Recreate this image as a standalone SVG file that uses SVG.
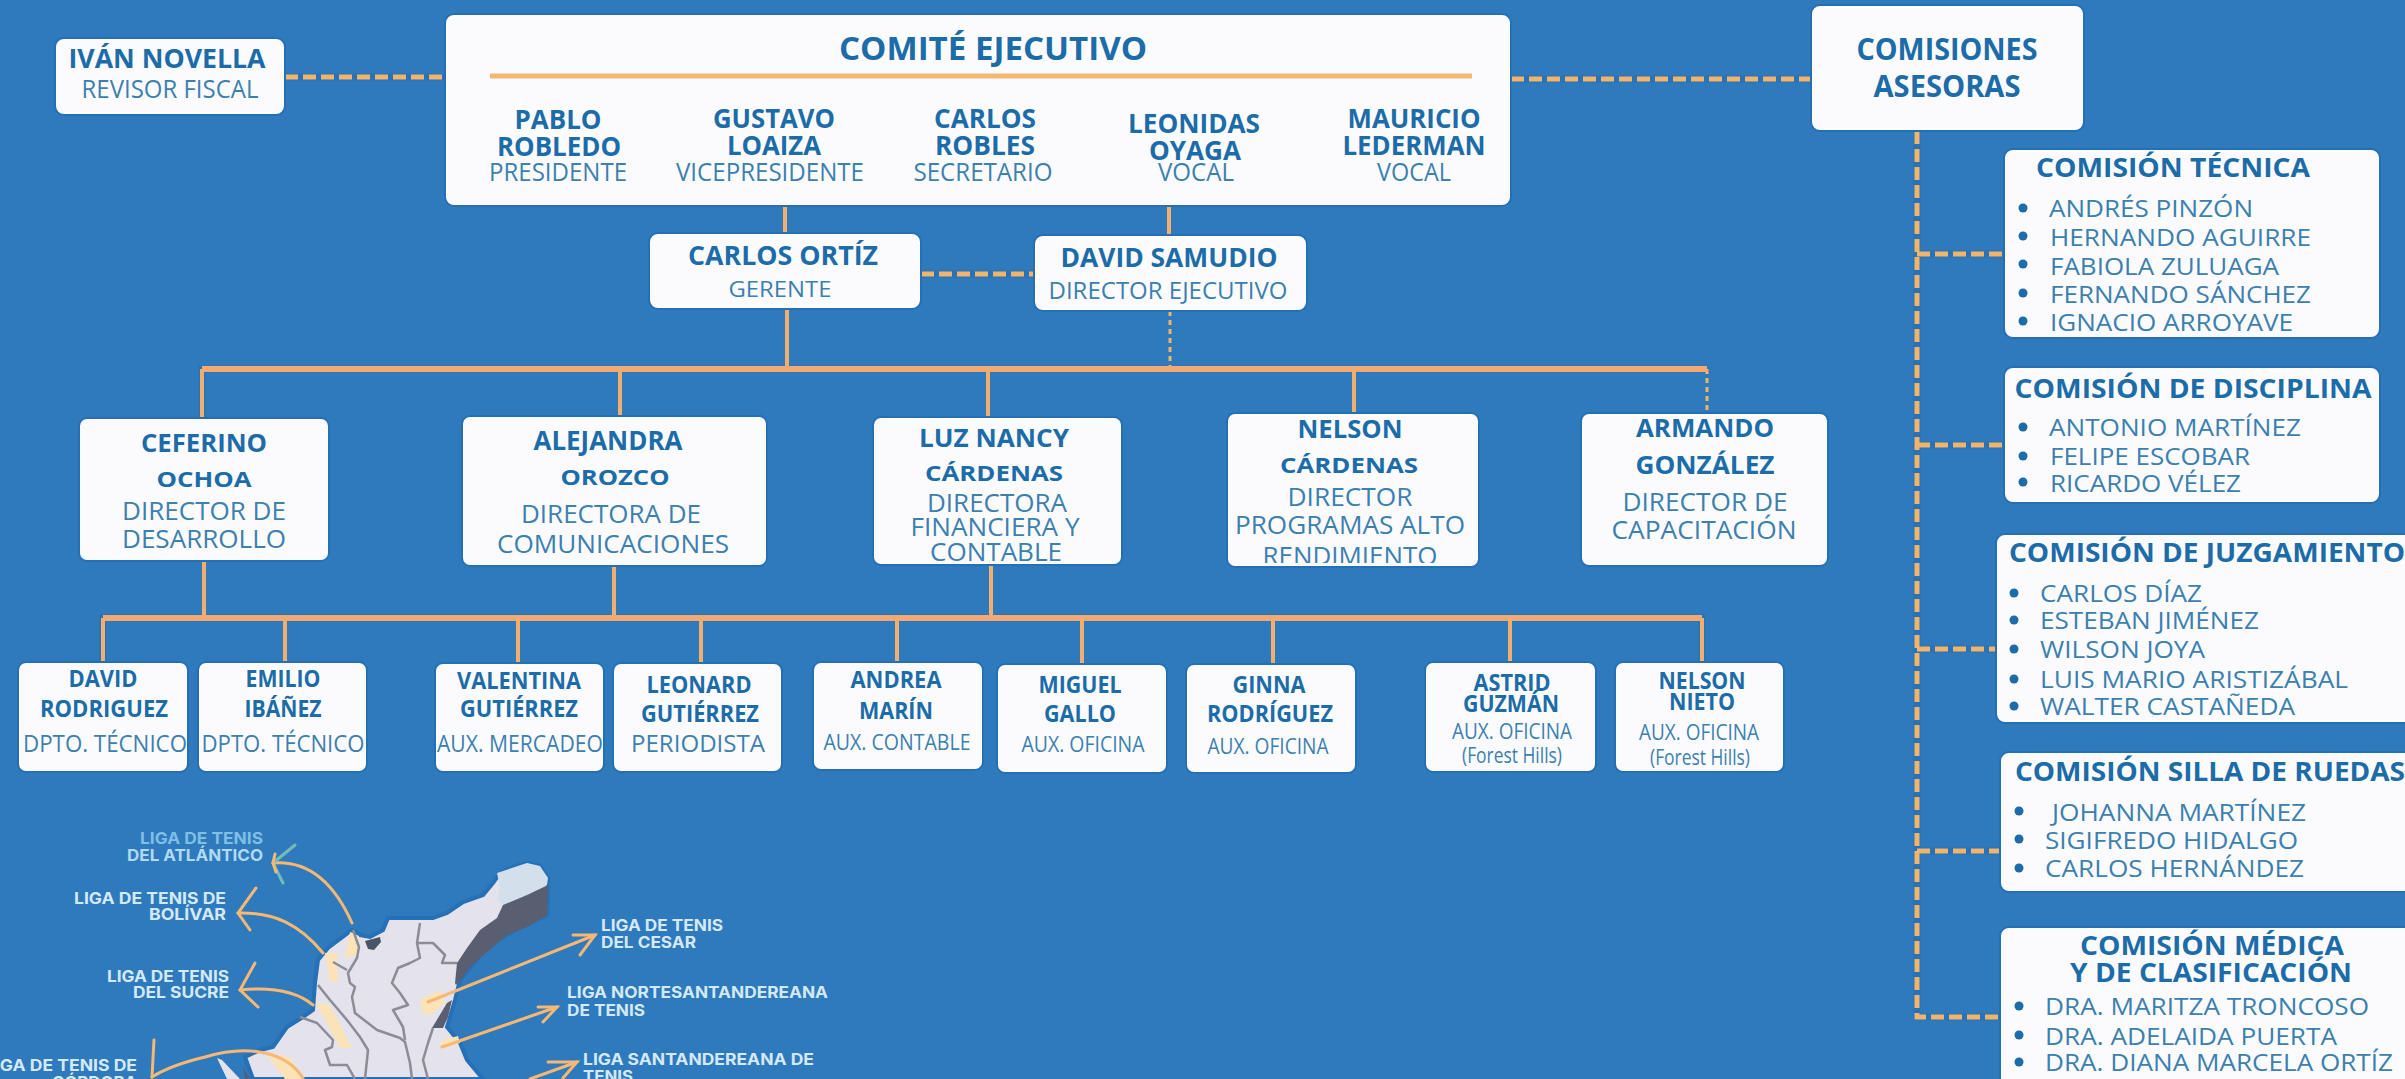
<svg xmlns="http://www.w3.org/2000/svg" width="2405" height="1079" viewBox="0 0 2405 1079">
<style>
text{font-family:"Open Sans","Liberation Sans",sans-serif}
.box{fill:#FBFBFE;stroke:#2570B4;stroke-width:2}
.c{text-anchor:middle}
.n{font-weight:700;fill:#1B6CA8}
.r{font-weight:400;fill:#3B80AE}
.s20{font-size:20px}.s21{font-size:21px}.s22{font-size:22px}.s23{font-size:23px}.s24{font-size:24px}.s25{font-size:25px}.s26{font-size:26px}.s31{font-size:31px}.s32{font-size:33px}
.bul{fill:#1B6CA8}
.solid{fill:none;stroke:#F2AE6E;stroke-width:4}
.bar{fill:none;stroke:#F4A873;stroke-width:6}
.halo{fill:none;stroke:#1D68AB;stroke-width:7;opacity:.4}
.dash{fill:none;stroke:#F2B36B;stroke-width:5;stroke-dasharray:13 5}
.dot{fill:none;stroke:#F2B36B;stroke-width:3;stroke-dasharray:5 4}
.rule{stroke:#F2B870;stroke-width:5}
.land{fill:#E4E3EC;stroke:#2570B6;stroke-width:4}
.dark{fill:#595F70}
.tip{fill:#D3E0EC}
.lake{fill:#4A5468}
.bord{fill:none;stroke:#8B8C98;stroke-width:2.5;stroke-linejoin:round}
.glow{fill:#FBE3B9}
.arr{fill:none;stroke:#F6B873;stroke-width:3;stroke-linecap:round;stroke-linejoin:miter}
.arrt{fill:none;stroke:#74BDB6;stroke-width:3;stroke-linecap:round}
.l{font-family:Inter,"Open Sans",sans-serif;font-weight:700;font-size:16px;fill:#D4E9F6}
.lf{fill:#7FBFE4}
.lm{fill:#B0DAF1}
</style>
<defs>
<clipPath id="clipNelson"><rect x="1227" y="413" width="252" height="150"/></clipPath>
</defs>
<rect width="2405" height="1079" fill="#2F79BD"/>

<g id="map">
<path class="land" d="M527 863L540 866L548 878L547 915L520 928L497 940L480 955L460 980L455 1000L447 1027L460 1043L467 1060L483 1079L253 1079L245 1057L260 1050L273 1047L287 1027L303 1017L313 1010L315 983L318 960L328 948L352 930L360 935L370 937L383 930L388 918L433 918L447 913L463 902L483 895L493 883L500 873L513 867Z"/>
<path class="tip" d="M497 873L527 863L540 866L548 878L547 885L527 895L503 905L497 900L500 887Z"/>
<path class="dark" d="M548 885L547 915L527 927L507 935L493 947L480 958L470 967L463 977L456 985L455 983L457 963L467 948L480 930L497 918L503 905L527 895Z"/>
<path class="dark" d="M452 1000L448 1017L443 1028L432 1028L447 1003Z"/>
<path class="lake" d="M365 941L380 937L381 942L374 950L368 949Z"/>
<path class="land" d="M217 1058L222 1060L240 1079L227 1079Z" style="stroke:none"/>
<path class="dark" d="M243 1067L250 1079L245 1079Z"/>
<path class="glow" d="M350 932L359 936L359 955L345 958ZM325 953L337 953L338 982L330 982ZM316 1003L330 1005L352 1048L340 1048Z"/>
<path class="glow" d="M420 1000L440 990L445 1003L430 1015L422 1012ZM442 1040L458 1036L460 1043L441 1049ZM265 1052L290 1057L303 1079L285 1079Z"/>
<path class="bord" d="M353 930L359 947L357 958L348 973L350 983L355 987L352 997L355 1013L377 1030L400 1038L405 1042L410 1063L412 1079"/>
<path class="bord" d="M333 962L347 970"/>
<path class="bord" d="M318 985L330 1000L347 1020L360 1037L368 1050L365 1079"/>
<path class="bord" d="M300 1017L317 1023L333 1040L332 1047L325 1050L330 1065L347 1065L355 1079"/>
<path class="bord" d="M420 923L417 943L420 958L410 963L398 968L392 983L400 993L408 1005L393 1010L403 1027L405 1040"/>
<path class="bord" d="M417 943L433 943L445 955L442 963L457 963"/>
<path class="bord" d="M433 1028L428 1043L423 1060L428 1079"/>
</g>

<g id="map-arrows">
<path class="arr" d="M352 923C335 885 310 860 273 863"/>
<path class="arrt" d="M295 845L273 863L283 883"/>
<path class="arr" d="M275 854L273 863L276 872"/>
<path class="arr" d="M323 953C300 925 275 912 238 913"/>
<path class="arr" d="M256 888L238 913L250 930"/>
<path class="arr" d="M313 1005C295 990 270 987 240 990"/>
<path class="arr" d="M255 963L240 990L258 1007"/>
<path class="arr" d="M303 1078C285 1050 245 1045 205 1057C180 1063 163 1070 152 1077"/>
<path class="arr" d="M154 1040L152 1077"/>
<path class="arr" d="M428 1002L595 935"/>
<path class="arr" d="M573 935L595 935L580 955"/>
<path class="arr" d="M442 1047L557 1007"/>
<path class="arr" d="M538 1007L557 1007L543 1022"/>
<path class="arr" d="M530 1079L577 1062"/>
<path class="arr" d="M548 1062L577 1062L563 1078"/>
</g>

<g id="map-labels">
<text class="l lf" x="263" y="844" text-anchor="end" textLength="123" lengthAdjust="spacingAndGlyphs">LIGA DE TENIS</text>
<text class="l lm" x="263" y="861" text-anchor="end" textLength="136" lengthAdjust="spacingAndGlyphs">DEL ATLÁNTICO</text>
<text class="l" x="226" y="904" text-anchor="end" textLength="152" lengthAdjust="spacingAndGlyphs">LIGA DE TENIS DE</text>
<text class="l" x="226" y="920" text-anchor="end" textLength="77" lengthAdjust="spacingAndGlyphs">BOLÍVAR</text>
<text class="l" x="229" y="982" text-anchor="end" textLength="122" lengthAdjust="spacingAndGlyphs">LIGA DE TENIS</text>
<text class="l" x="229" y="998" text-anchor="end" textLength="96" lengthAdjust="spacingAndGlyphs">DEL SUCRE</text>
<text class="l" x="137" y="1071" text-anchor="end" textLength="152" lengthAdjust="spacingAndGlyphs">LIGA DE TENIS DE</text>
<text class="l" x="137" y="1088" text-anchor="end" textLength="85" lengthAdjust="spacingAndGlyphs">CÓRDOBA</text>
<text class="l" x="601" y="931" textLength="122" lengthAdjust="spacingAndGlyphs">LIGA DE TENIS</text>
<text class="l" x="601" y="948" textLength="95" lengthAdjust="spacingAndGlyphs">DEL CESAR</text>
<text class="l" x="567" y="998" textLength="261" lengthAdjust="spacingAndGlyphs">LIGA NORTESANTANDEREANA</text>
<text class="l" x="567" y="1016" textLength="78" lengthAdjust="spacingAndGlyphs">DE TENIS</text>
<text class="l" x="583" y="1065" textLength="231" lengthAdjust="spacingAndGlyphs">LIGA SANTANDEREANA DE</text>
<text class="l" x="583" y="1082" textLength="50" lengthAdjust="spacingAndGlyphs">TENIS</text>
</g>

<g id="connectors">
<path class="halo" d="M285 77H445M1511 79H1811M921 274H1034M1917 131V1017H2000M1917 254H2004M1917 445H2004M1917 649H1996M1917 851H2000"/>
<path class="halo" d="M202 418V369H1707M103 662V618H1702V662"/>
<path class="dash" d="M285 77H445"/>
<path class="dash" d="M1511 79H1811"/>
<path class="dash" d="M921 274H1034"/>
<path class="dash" d="M1917 131V1017H2000"/>
<path class="dash" d="M1917 254H2004"/>
<path class="dash" d="M1917 445H2004"/>
<path class="dash" d="M1917 649H1996"/>
<path class="dash" d="M1917 851H2000"/>
<path class="dot" d="M1170 311V369"/>
<path class="dot" d="M1707 369V413"/>
<path class="solid" d="M785 206V233"/>
<path class="solid" d="M1169 206V235"/>
<path class="solid" d="M787 309V369"/>
<path class="bar" d="M202 369H1707"/>
<path class="solid" d="M202 369V418"/>
<path class="solid" d="M620 369V416"/>
<path class="solid" d="M988 369V417"/>
<path class="solid" d="M1354 369V413"/>
<path class="solid" d="M204 561V618"/>
<path class="solid" d="M614 566V618"/>
<path class="solid" d="M991 565V618"/>
<path class="bar" d="M103 618H1702"/>
<path class="solid" d="M103 618V662"/>
<path class="solid" d="M285 618V662"/>
<path class="solid" d="M518 618V663"/>
<path class="solid" d="M701 618V663"/>
<path class="solid" d="M897 618V662"/>
<path class="solid" d="M1082 618V664"/>
<path class="solid" d="M1273 618V664"/>
<path class="solid" d="M1510 618V662"/>
<path class="solid" d="M1702 618V662"/>
</g>

<g id="ivan-novella">
<rect class="box" x="55" y="38" width="230" height="77" rx="9"/>
<text class="c n s26" x="167" y="68" textLength="197" lengthAdjust="spacingAndGlyphs">IVÁN NOVELLA</text>
<text class="c r s25" x="170" y="98" textLength="177" lengthAdjust="spacingAndGlyphs">REVISOR FISCAL</text>
</g>

<g id="comite-ejecutivo">
<rect class="box" x="445" y="14" width="1066" height="192" rx="9"/>
<text class="c n s32" x="993" y="60" textLength="308" lengthAdjust="spacingAndGlyphs">COMITÉ EJECUTIVO</text>
<line class="rule" x1="490" y1="76" x2="1472" y2="76"/>
<text class="c n s26" x="558" y="129" textLength="87" lengthAdjust="spacingAndGlyphs">PABLO</text>
<text class="c n s26" x="559" y="156" textLength="124" lengthAdjust="spacingAndGlyphs">ROBLEDO</text>
<text class="c r s25" x="558" y="181" textLength="138" lengthAdjust="spacingAndGlyphs">PRESIDENTE</text>
<text class="c n s26" x="774" y="128" textLength="122" lengthAdjust="spacingAndGlyphs">GUSTAVO</text>
<text class="c n s26" x="774" y="155" textLength="94" lengthAdjust="spacingAndGlyphs">LOAIZA</text>
<text class="c r s25" x="770" y="181" textLength="188" lengthAdjust="spacingAndGlyphs">VICEPRESIDENTE</text>
<text class="c n s26" x="985" y="128" textLength="102" lengthAdjust="spacingAndGlyphs">CARLOS</text>
<text class="c n s26" x="985" y="155" textLength="100" lengthAdjust="spacingAndGlyphs">ROBLES</text>
<text class="c r s25" x="983" y="181" textLength="139" lengthAdjust="spacingAndGlyphs">SECRETARIO</text>
<text class="c n s26" x="1194" y="133" textLength="132" lengthAdjust="spacingAndGlyphs">LEONIDAS</text>
<text class="c n s26" x="1195" y="160" textLength="92" lengthAdjust="spacingAndGlyphs">OYAGA</text>
<text class="c r s25" x="1196" y="181" textLength="76" lengthAdjust="spacingAndGlyphs">VOCAL</text>
<text class="c n s26" x="1414" y="128" textLength="133" lengthAdjust="spacingAndGlyphs">MAURICIO</text>
<text class="c n s26" x="1414" y="155" textLength="143" lengthAdjust="spacingAndGlyphs">LEDERMAN</text>
<text class="c r s25" x="1414" y="181" textLength="74" lengthAdjust="spacingAndGlyphs">VOCAL</text>
</g>

<g id="carlos-ortiz">
<rect class="box" x="649" y="233" width="272" height="76" rx="9"/>
<text class="c n s26" x="783" y="265" textLength="190" lengthAdjust="spacingAndGlyphs">CARLOS ORTÍZ</text>
<text class="c r s22" x="780" y="297" textLength="103" lengthAdjust="spacingAndGlyphs">GERENTE</text>
</g>
<g id="david-samudio">
<rect class="box" x="1034" y="235" width="273" height="76" rx="9"/>
<text class="c n s26" x="1169" y="267" textLength="217" lengthAdjust="spacingAndGlyphs">DAVID SAMUDIO</text>
<text class="c r s23" x="1168" y="299" textLength="239" lengthAdjust="spacingAndGlyphs">DIRECTOR EJECUTIVO</text>
</g>

<g id="ceferino-ochoa">
<rect class="box" x="79" y="418" width="250" height="143" rx="8"/>
<text class="c n s25" x="204" y="452" textLength="126" lengthAdjust="spacingAndGlyphs">CEFERINO</text>
<text class="c n s22" x="204" y="487" textLength="95" lengthAdjust="spacingAndGlyphs">OCHOA</text>
<text class="c r s25" x="204" y="520" textLength="164" lengthAdjust="spacingAndGlyphs">DIRECTOR DE</text>
<text class="c r s25" x="204" y="548" textLength="164" lengthAdjust="spacingAndGlyphs">DESARROLLO</text>
</g>
<g id="alejandra-orozco">
<rect class="box" x="462" y="416" width="305" height="150" rx="8"/>
<text class="c n s26" x="608" y="450" textLength="149" lengthAdjust="spacingAndGlyphs">ALEJANDRA</text>
<text class="c n s22" x="615" y="485" textLength="109" lengthAdjust="spacingAndGlyphs">OROZCO</text>
<text class="c r s25" x="611" y="523" textLength="180" lengthAdjust="spacingAndGlyphs">DIRECTORA DE</text>
<text class="c r s25" x="613" y="553" textLength="232" lengthAdjust="spacingAndGlyphs">COMUNICACIONES</text>
</g>
<g id="luz-nancy-cardenas">
<rect class="box" x="873" y="417" width="249" height="148" rx="8"/>
<text class="c n s25" x="994" y="447" textLength="150" lengthAdjust="spacingAndGlyphs">LUZ NANCY</text>
<text class="c n s22" x="994" y="481" textLength="138" lengthAdjust="spacingAndGlyphs">CÁRDENAS</text>
<text class="c r s25" x="997" y="512" textLength="140" lengthAdjust="spacingAndGlyphs">DIRECTORA</text>
<text class="c r s25" x="995" y="536" textLength="169" lengthAdjust="spacingAndGlyphs">FINANCIERA Y</text>
<text class="c r s25" x="996" y="561" textLength="132" lengthAdjust="spacingAndGlyphs">CONTABLE</text>
</g>
<g id="nelson-cardenas">
<rect class="box" x="1227" y="413" width="252" height="154" rx="8"/>
<text class="c n s25" x="1350" y="438" textLength="105" lengthAdjust="spacingAndGlyphs">NELSON</text>
<text class="c n s22" x="1349" y="473" textLength="138" lengthAdjust="spacingAndGlyphs">CÁRDENAS</text>
<text class="c r s25" x="1350" y="506" textLength="125" lengthAdjust="spacingAndGlyphs">DIRECTOR</text>
<text class="c r s25" x="1350" y="534" textLength="230" lengthAdjust="spacingAndGlyphs">PROGRAMAS ALTO</text>
<text class="c r s25" x="1350" y="565" textLength="175" lengthAdjust="spacingAndGlyphs" clip-path="url(#clipNelson)">RENDIMIENTO</text>
</g>
<g id="armando-gonzalez">
<rect class="box" x="1581" y="413" width="247" height="153" rx="8"/>
<text class="c n s25" x="1705" y="437" textLength="138" lengthAdjust="spacingAndGlyphs">ARMANDO</text>
<text class="c n s25" x="1705" y="474" textLength="139" lengthAdjust="spacingAndGlyphs">GONZÁLEZ</text>
<text class="c r s25" x="1705" y="511" textLength="165" lengthAdjust="spacingAndGlyphs">DIRECTOR DE</text>
<text class="c r s25" x="1704" y="539" textLength="185" lengthAdjust="spacingAndGlyphs">CAPACITACIÓN</text>
</g>

<g id="david-rodriguez">
<rect class="box" x="18" y="662" width="170" height="110" rx="8"/>
<text class="c n s23" x="103" y="687" textLength="69" lengthAdjust="spacingAndGlyphs">DAVID</text>
<text class="c n s23" x="104" y="717" textLength="128" lengthAdjust="spacingAndGlyphs">RODRIGUEZ</text>
<text class="c r s23" x="105" y="752" textLength="164" lengthAdjust="spacingAndGlyphs">DPTO. TÉCNICO</text>
</g>
<g id="emilio-ibanez">
<rect class="box" x="198" y="662" width="169" height="110" rx="8"/>
<text class="c n s23" x="283" y="687" textLength="75" lengthAdjust="spacingAndGlyphs">EMILIO</text>
<text class="c n s23" x="283" y="717" textLength="77" lengthAdjust="spacingAndGlyphs">IBÁÑEZ</text>
<text class="c r s23" x="283" y="752" textLength="163" lengthAdjust="spacingAndGlyphs">DPTO. TÉCNICO</text>
</g>
<g id="valentina-gutierrez">
<rect class="box" x="435" y="663" width="169" height="109" rx="8"/>
<text class="c n s23" x="519" y="689" textLength="124" lengthAdjust="spacingAndGlyphs">VALENTINA</text>
<text class="c n s23" x="519" y="717" textLength="118" lengthAdjust="spacingAndGlyphs">GUTIÉRREZ</text>
<text class="c r s23" x="520" y="752" textLength="166" lengthAdjust="spacingAndGlyphs">AUX. MERCADEO</text>
</g>
<g id="leonard-gutierrez">
<rect class="box" x="613" y="663" width="169" height="109" rx="8"/>
<text class="c n s23" x="699" y="693" textLength="105" lengthAdjust="spacingAndGlyphs">LEONARD</text>
<text class="c n s23" x="700" y="722" textLength="118" lengthAdjust="spacingAndGlyphs">GUTIÉRREZ</text>
<text class="c r s23" x="698" y="752" textLength="134" lengthAdjust="spacingAndGlyphs">PERIODISTA</text>
</g>
<g id="andrea-marin">
<rect class="box" x="813" y="662" width="170" height="108" rx="8"/>
<text class="c n s23" x="896" y="688" textLength="91" lengthAdjust="spacingAndGlyphs">ANDREA</text>
<text class="c n s23" x="896" y="719" textLength="74" lengthAdjust="spacingAndGlyphs">MARÍN</text>
<text class="c r s22" x="897" y="750" textLength="147" lengthAdjust="spacingAndGlyphs">AUX. CONTABLE</text>
</g>
<g id="miguel-gallo">
<rect class="box" x="997" y="664" width="170" height="109" rx="8"/>
<text class="c n s23" x="1080" y="693" textLength="83" lengthAdjust="spacingAndGlyphs">MIGUEL</text>
<text class="c n s23" x="1080" y="722" textLength="72" lengthAdjust="spacingAndGlyphs">GALLO</text>
<text class="c r s22" x="1083" y="752" textLength="123" lengthAdjust="spacingAndGlyphs">AUX. OFICINA</text>
</g>
<g id="ginna-rodriguez">
<rect class="box" x="1186" y="664" width="170" height="109" rx="8"/>
<text class="c n s23" x="1269" y="693" textLength="73" lengthAdjust="spacingAndGlyphs">GINNA</text>
<text class="c n s23" x="1270" y="722" textLength="126" lengthAdjust="spacingAndGlyphs">RODRÍGUEZ</text>
<text class="c r s22" x="1268" y="754" textLength="121" lengthAdjust="spacingAndGlyphs">AUX. OFICINA</text>
</g>
<g id="astrid-guzman">
<rect class="box" x="1425" y="662" width="171" height="110" rx="8"/>
<text class="c n s23" x="1512" y="691" textLength="77" lengthAdjust="spacingAndGlyphs">ASTRID</text>
<text class="c n s23" x="1511" y="712" textLength="96" lengthAdjust="spacingAndGlyphs">GUZMÁN</text>
<text class="c r s22" x="1512" y="739" textLength="120" lengthAdjust="spacingAndGlyphs">AUX. OFICINA</text>
<text class="c r s22" x="1512" y="763" textLength="100" lengthAdjust="spacingAndGlyphs">(Forest Hills)</text>
</g>
<g id="nelson-nieto">
<rect class="box" x="1615" y="662" width="169" height="110" rx="8"/>
<text class="c n s23" x="1702" y="689" textLength="87" lengthAdjust="spacingAndGlyphs">NELSON</text>
<text class="c n s23" x="1702" y="710" textLength="66" lengthAdjust="spacingAndGlyphs">NIETO</text>
<text class="c r s22" x="1699" y="740" textLength="120" lengthAdjust="spacingAndGlyphs">AUX. OFICINA</text>
<text class="c r s22" x="1700" y="765" textLength="100" lengthAdjust="spacingAndGlyphs">(Forest Hills)</text>
</g>

<g id="comisiones-asesoras">
<rect class="box" x="1811" y="5" width="273" height="126" rx="9"/>
<text class="c n s31" x="1947" y="60" textLength="181" lengthAdjust="spacingAndGlyphs">COMISIONES</text>
<text class="c n s31" x="1947" y="97" textLength="147" lengthAdjust="spacingAndGlyphs">ASESORAS</text>
</g>
<g id="comision-tecnica">
<rect class="box" x="2004" y="149" width="376" height="189" rx="9"/>
<text class="c n s26" x="2173" y="177" textLength="274" lengthAdjust="spacingAndGlyphs">COMISIÓN TÉCNICA</text>
<circle class="bul" cx="2023" cy="208" r="4.5"/><circle class="bul" cx="2023" cy="236" r="4.5"/><circle class="bul" cx="2023" cy="264" r="4.5"/><circle class="bul" cx="2023" cy="293" r="4.5"/><circle class="bul" cx="2023" cy="321" r="4.5"/>
<text class="r s24" x="2049" y="217" textLength="204" lengthAdjust="spacingAndGlyphs">ANDRÉS PINZÓN</text>
<text class="r s24" x="2050" y="246" textLength="261" lengthAdjust="spacingAndGlyphs">HERNANDO AGUIRRE</text>
<text class="r s24" x="2050" y="275" textLength="229" lengthAdjust="spacingAndGlyphs">FABIOLA ZULUAGA</text>
<text class="r s24" x="2050" y="303" textLength="261" lengthAdjust="spacingAndGlyphs">FERNANDO SÁNCHEZ</text>
<text class="r s24" x="2050" y="331" textLength="243" lengthAdjust="spacingAndGlyphs">IGNACIO ARROYAVE</text>
</g>
<g id="comision-disciplina">
<rect class="box" x="2004" y="367" width="376" height="136" rx="9"/>
<text class="c n s26" x="2193" y="398" textLength="357" lengthAdjust="spacingAndGlyphs">COMISIÓN DE DISCIPLINA</text>
<circle class="bul" cx="2023" cy="427" r="4.5"/><circle class="bul" cx="2023" cy="456" r="4.5"/><circle class="bul" cx="2023" cy="482" r="4.5"/>
<text class="r s24" x="2049" y="436" textLength="252" lengthAdjust="spacingAndGlyphs">ANTONIO MARTÍNEZ</text>
<text class="r s24" x="2050" y="465" textLength="200" lengthAdjust="spacingAndGlyphs">FELIPE ESCOBAR</text>
<text class="r s24" x="2050" y="492" textLength="191" lengthAdjust="spacingAndGlyphs">RICARDO VÉLEZ</text>
</g>
<g id="comision-juzgamiento">
<rect class="box" x="1996" y="534" width="430" height="189" rx="9"/>
<text class="n s26" x="2009" y="562" textLength="396" lengthAdjust="spacingAndGlyphs">COMISIÓN DE JUZGAMIENTO</text>
<circle class="bul" cx="2014" cy="593" r="4.5"/><circle class="bul" cx="2014" cy="620" r="4.5"/><circle class="bul" cx="2014" cy="649" r="4.5"/><circle class="bul" cx="2014" cy="679" r="4.5"/><circle class="bul" cx="2014" cy="706" r="4.5"/>
<text class="r s24" x="2040" y="602" textLength="162" lengthAdjust="spacingAndGlyphs">CARLOS DÍAZ</text>
<text class="r s24" x="2040" y="629" textLength="219" lengthAdjust="spacingAndGlyphs">ESTEBAN JIMÉNEZ</text>
<text class="r s24" x="2040" y="658" textLength="165" lengthAdjust="spacingAndGlyphs">WILSON JOYA</text>
<text class="r s24" x="2040" y="688" textLength="308" lengthAdjust="spacingAndGlyphs">LUIS MARIO ARISTIZÁBAL</text>
<text class="r s24" x="2040" y="715" textLength="255" lengthAdjust="spacingAndGlyphs">WALTER CASTAÑEDA</text>
</g>
<g id="comision-silla-ruedas">
<rect class="box" x="2000" y="752" width="430" height="140" rx="9"/>
<text class="n s26" x="2015" y="781" textLength="390" lengthAdjust="spacingAndGlyphs">COMISIÓN SILLA DE RUEDAS</text>
<circle class="bul" cx="2019" cy="811" r="4.5"/><circle class="bul" cx="2019" cy="839" r="4.5"/><circle class="bul" cx="2019" cy="868" r="4.5"/>
<text class="r s24" x="2052" y="821" textLength="254" lengthAdjust="spacingAndGlyphs">JOHANNA MARTÍNEZ</text>
<text class="r s24" x="2045" y="849" textLength="253" lengthAdjust="spacingAndGlyphs">SIGIFREDO HIDALGO</text>
<text class="r s24" x="2045" y="877" textLength="259" lengthAdjust="spacingAndGlyphs">CARLOS HERNÁNDEZ</text>
</g>
<g id="comision-medica">
<rect class="box" x="2000" y="927" width="430" height="174" rx="9"/>
<text class="c n s26" x="2212" y="955" textLength="264" lengthAdjust="spacingAndGlyphs">COMISIÓN MÉDICA</text>
<text class="c n s26" x="2211" y="982" textLength="282" lengthAdjust="spacingAndGlyphs">Y DE CLASIFICACIÓN</text>
<circle class="bul" cx="2019" cy="1006" r="4.5"/><circle class="bul" cx="2019" cy="1035" r="4.5"/><circle class="bul" cx="2019" cy="1062" r="4.5"/>
<text class="r s24" x="2045" y="1015" textLength="324" lengthAdjust="spacingAndGlyphs">DRA. MARITZA TRONCOSO</text>
<text class="r s24" x="2045" y="1045" textLength="292" lengthAdjust="spacingAndGlyphs">DRA. ADELAIDA PUERTA</text>
<text class="r s24" x="2045" y="1071" textLength="348" lengthAdjust="spacingAndGlyphs">DRA. DIANA MARCELA ORTÍZ</text>
</g>
</svg>
